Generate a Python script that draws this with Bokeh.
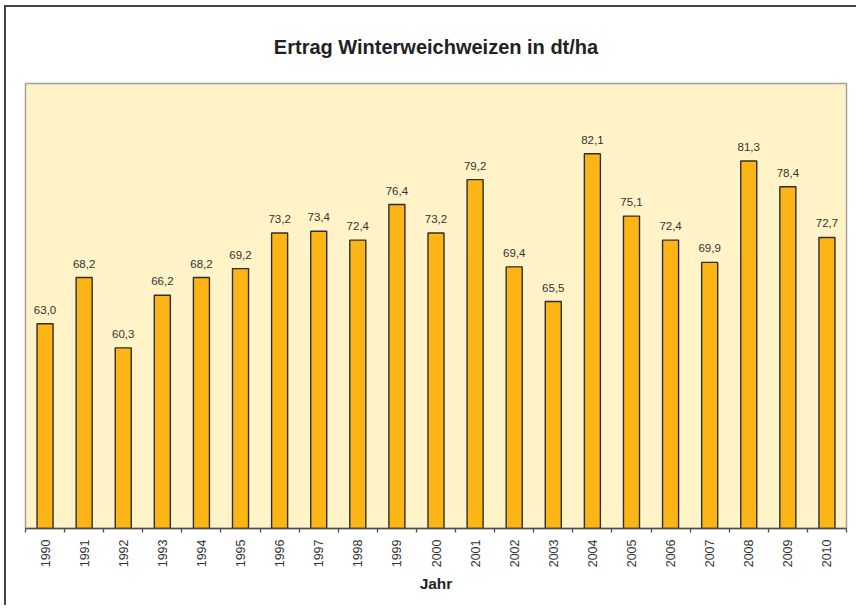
import math
from bokeh.plotting import figure
from bokeh.models import ColumnDataSource, Range1d, FixedTicker
from bokeh.core.properties import value
from bokeh.embed import file_html
from bokeh.resources import INLINE

years = list(range(1990, 2011))
yields = [63.0, 68.2, 60.3, 66.2, 68.2, 69.2, 73.2, 73.4, 72.4, 76.4, 73.2,
          79.2, 69.4, 65.5, 82.1, 75.1, 72.4, 69.9, 81.3, 78.4, 72.7]
labels = [f"{v:.1f}".replace(".", ",") for v in yields]
y_min, y_max = 40, 90

src = ColumnDataSource(dict(year=years, value=yields, label=labels))

FONT = "Liberation Sans"

p = figure(width=852, height=600, output_backend="svg", toolbar_location=None,
           x_range=Range1d(years[0] - 0.5, years[-1] + 0.5),
           y_range=Range1d(y_min, y_max),
           y_axis_location=None,
           min_border_left=19, min_border_right=12,
           min_border_top=75, min_border_bottom=79,
           title="Ertrag Winterweichweizen in dt/ha")
p.styles = {"margin-left": "4px", "margin-top": "5px",
            "border-top": "2px solid #454545", "border-left": "2px solid #454545"}

p.background_fill_color = "#FFF3C7"
p.border_fill_color = "white"
p.outline_line_color = "#A0A0A0"
p.outline_line_width = 1.5
p.grid.visible = False

p.title.align = "center"
p.title.text_font = FONT
p.title.text_font_size = "20px"
p.title.text_font_style = "bold"
p.title.text_color = "#222222"
p.title.standoff = 52

p.vbar(x="year", top="value", bottom=y_min, width=0.41, source=src,
       fill_color="#FDB515", line_color="#2E2E2E", line_width=1.4)

p.text(x="year", y="value", text="label", source=src,
       text_align="center", text_baseline="alphabetic", y_offset=-14,
       text_font=value(FONT), text_font_size="11.5px", text_color="#333333")

ax = p.xaxis[0]
ax.ticker = FixedTicker(ticks=years, minor_ticks=[y - 0.5 for y in years] + [years[-1] + 0.5])
ax.major_tick_in = 0
ax.major_tick_out = 0
ax.minor_tick_in = 0
ax.minor_tick_out = 4
ax.minor_tick_line_color = "#4D4D4D"
ax.minor_tick_line_width = 1.3
ax.axis_line_color = "#4D4D4D"
ax.axis_line_width = 1.5
ax.major_label_orientation = math.pi / 2
ax.major_label_standoff = 7
ax.major_label_text_font = FONT
ax.major_label_text_font_size = "12.5px"
ax.major_label_text_color = "#333333"
ax.axis_label = "Jahr"
ax.axis_label_text_font = FONT
ax.axis_label_text_font_size = "15.5px"
ax.axis_label_text_font_style = "bold"
ax.axis_label_text_color = "#222222"
ax.axis_label_standoff = 5

open("out.html", "w").write(file_html(p, INLINE))
